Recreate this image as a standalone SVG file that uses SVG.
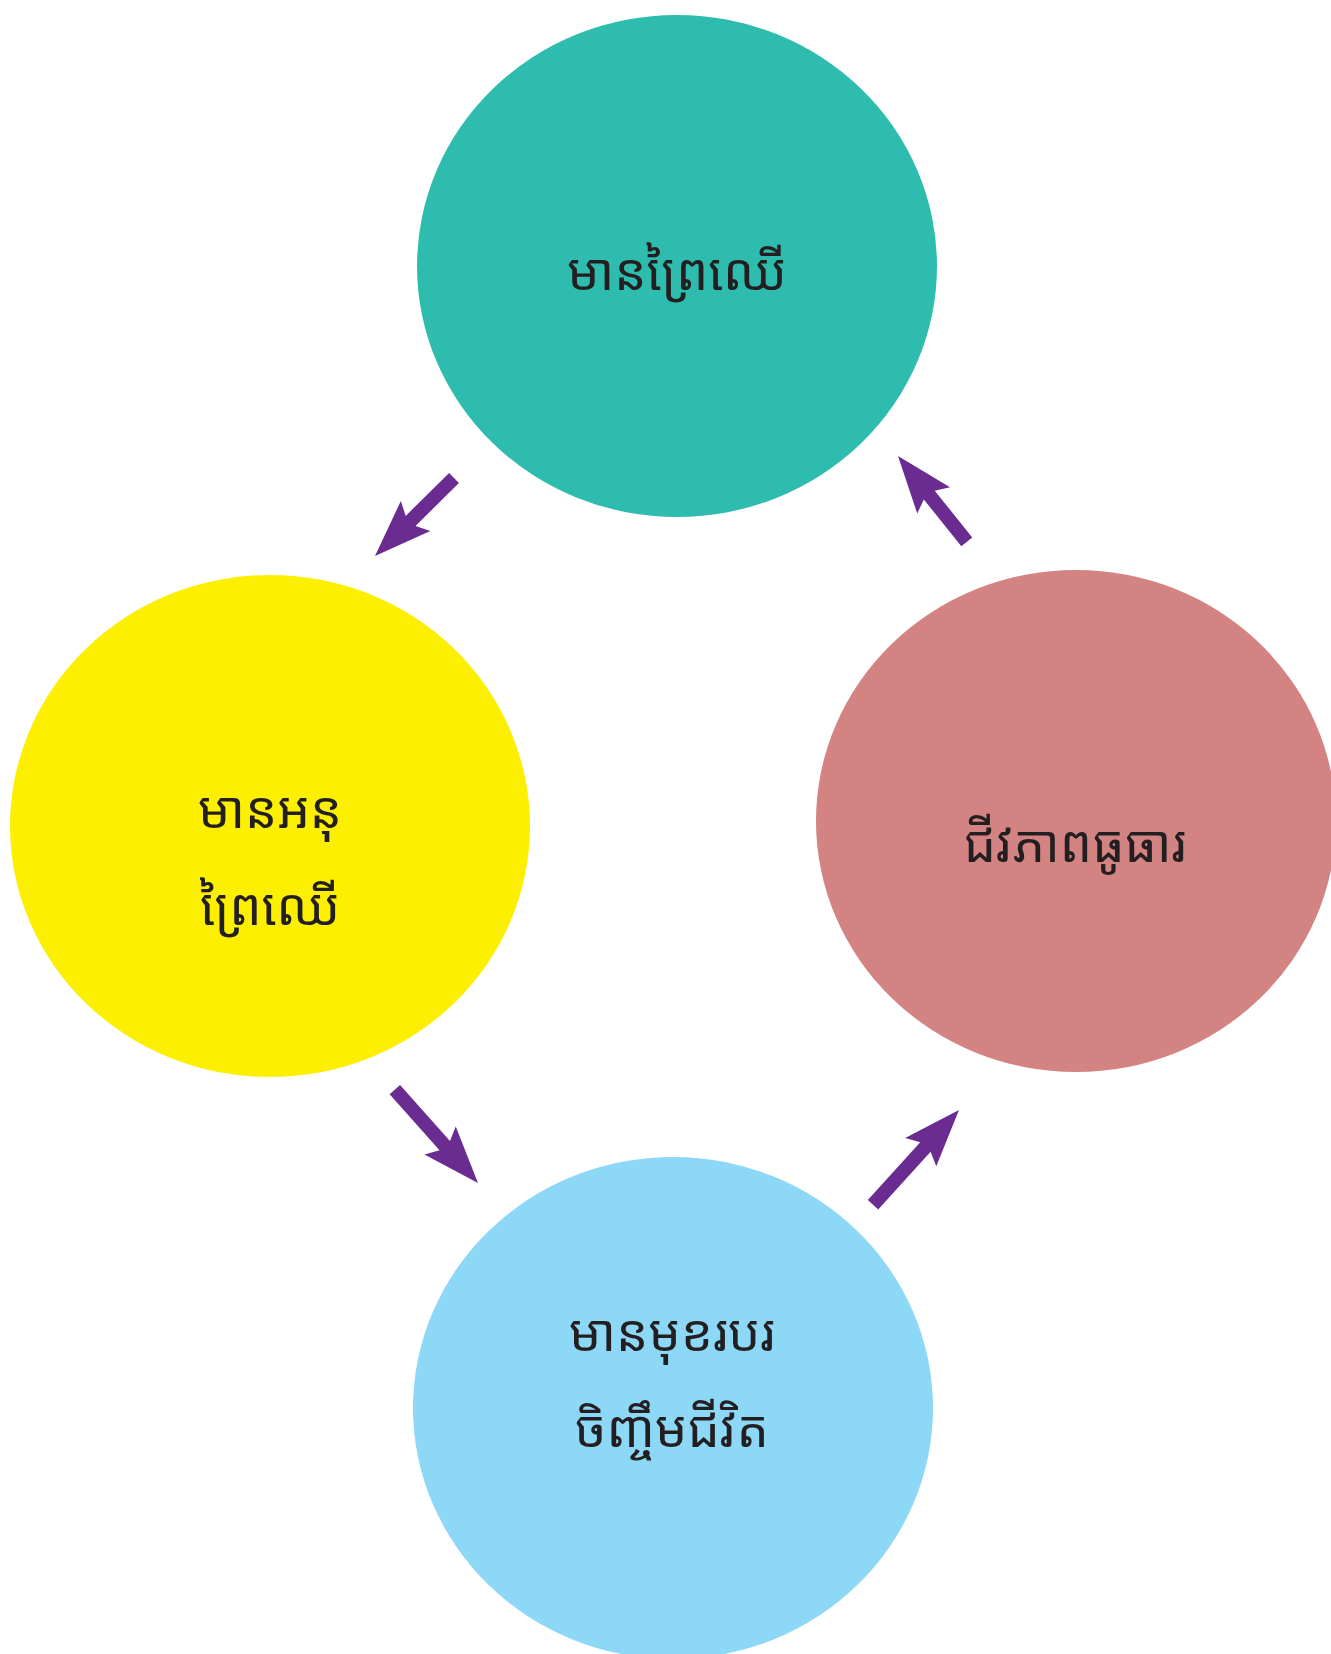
<svg xmlns="http://www.w3.org/2000/svg" width="1331" height="1654" viewBox="0 0 1331 1654">
<style>
.lbl{font-family:"Noto Sans Khmer","Khmer OS","Noto Sans",sans-serif;font-size:51px;fill:#231F20;text-anchor:middle}
.arr{fill:#6B2C91}
</style>
<rect width="1331" height="1654" fill="#FFFFFF"/>
<g id="node-top">
<ellipse cx="677" cy="266" rx="260" ry="251" fill="#2EBCAE"/>
<text class="lbl" x="677" y="290">មានព្រៃឈើ</text>
</g>
<g id="node-left">
<ellipse cx="270" cy="826" rx="260" ry="251" fill="#FDEF00"/>
<text class="lbl" x="270" y="828">មានអនុ</text>
<text class="lbl" x="270" y="925">ព្រៃឈើ</text>
</g>
<g id="node-right">
<ellipse cx="1076" cy="821" rx="260" ry="251" fill="#D48383"/>
<text class="lbl" x="1075" y="862">ជីវភាពធូធារ</text>
</g>
<g id="node-bottom">
<ellipse cx="673" cy="1408" rx="260" ry="251" fill="#8DD8F6"/>
<text class="lbl" x="672" y="1351">មានមុខរបរ</text>
<text class="lbl" x="672" y="1447">ចិញ្ចឹមជីវិត</text>
</g>
<g id="connectors">
<polygon class="arr" points="0,0 -57,-21 -50,-7 -111,-7 -111,7 -50,7 -57,21" transform="translate(375,556) rotate(135.4)"/>
<polygon class="arr" points="0,0 -57,-21 -50,-7 -110,-7 -110,7 -50,7 -57,21" transform="translate(898,456) rotate(-128.7)"/>
<polygon class="arr" points="0,0 -57,-21 -50,-7 -125,-7 -125,7 -50,7 -57,21" transform="translate(478,1183) rotate(48.3)"/>
<polygon class="arr" points="0,0 -57,-21 -50,-7 -128,-7 -128,7 -50,7 -57,21" transform="translate(959,1110) rotate(-47.8)"/>
</g>
</svg>
